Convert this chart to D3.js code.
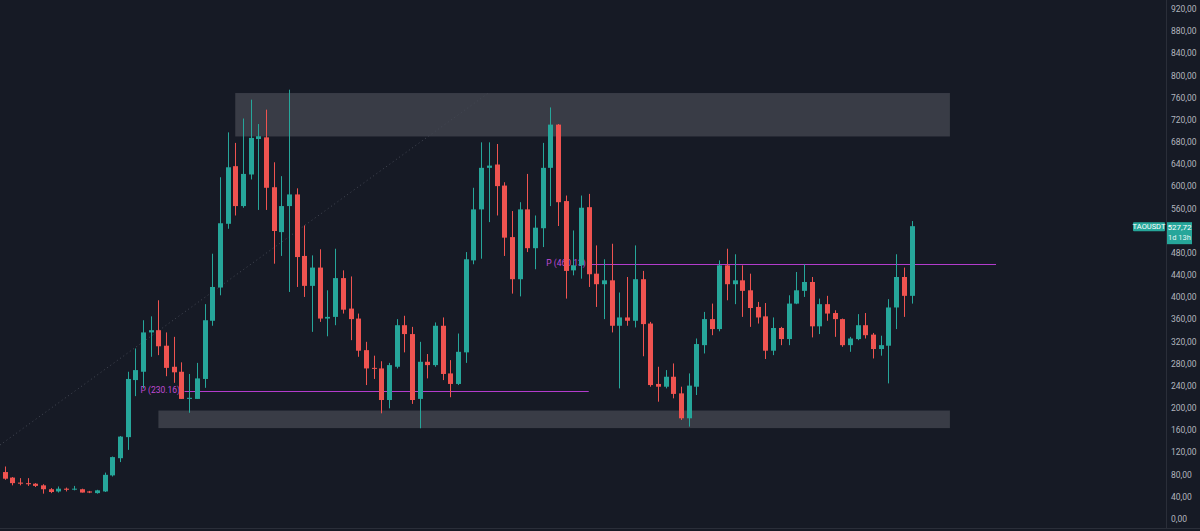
<!DOCTYPE html>
<html>
<head>
<meta charset="utf-8">
<script src="https://cdn.jsdelivr.net/npm/d3@7"></script>
<style>
  html, body { margin: 0; padding: 0; background: #161a25; overflow: hidden; }
  text { font-family: Roboto, "Noto Sans", sans-serif; }
</style>
</head>
<body>
<div id="chart"></div>
<script>
// daily candles, TAO/USDT
var opens  = [84,74,65,64,63,60,53,49,54,53,53,49,46,49,78,109,147,250,265,336,
              340,312,274,265,216,216,252,357,417,532,636,564,621,685,688,598,517,564,585,474,
              420,453,361,364,434,379,361,304,272,271,214,274,349,333,216,283,277,348,262,243,
              300,466,558,633,639,601,508,432,558,488,524,633,711,573,448,457,562,442,423,430,
              348,363,357,432,352,243,238,256,226,181,238,313,360,342,457,423,430,412,382,365,
              303,344,324,388,411,427,347,387,371,360,313,324,349,332,306,312,381,436,402];
var highs  = [94,75,73,73,64,62,55,58,56,59,54,50,52,83,112,149,265,307,358,365,
              394,336,328,282,261,281,387,478,616,697,678,722,756,712,738,643,618,774,596,529,
              475,486,412,487,448,437,370,319,294,284,281,360,366,346,319,297,354,363,286,334,
              481,597,679,679,676,607,555,571,622,547,678,742,712,583,520,583,586,493,468,496,
              408,436,493,447,355,274,268,280,238,262,325,373,388,466,487,477,457,442,391,389,
              363,346,403,445,459,436,397,402,376,361,328,369,371,335,330,396,477,453,537];
var lows   = [70,60,60,59,57,45,46,47,49,51,47,46,45,48,76,102,124,221,235,292,
              295,257,245,216,191,216,236,348,403,523,547,561,612,557,557,460,474,409,418,400,
              337,355,329,349,370,322,292,241,252,190,199,271,300,207,163,253,274,250,219,241,
              281,459,469,535,547,474,406,401,481,450,490,564,528,397,439,433,418,382,360,336,
              235,348,345,293,238,211,235,217,178,166,223,298,331,338,394,387,364,346,352,288,
              295,313,313,387,400,327,333,357,328,310,301,322,325,289,294,244,342,364,388];
var closes = [72,64,63,62,59,53,48,54,52,54,47,47,51,79,111,148,252,268,336,340,
              311,272,264,216,218,253,358,418,533,634,564,622,687,690,597,519,564,585,472,420,
              453,361,364,434,377,360,303,271,271,214,277,349,333,214,283,277,348,261,243,301,
              468,558,633,637,600,507,432,558,488,525,633,711,571,447,457,561,441,423,430,348,
              363,357,432,351,241,238,256,225,181,240,315,360,342,457,423,430,411,380,363,303,
              344,324,388,412,427,347,387,370,360,313,325,349,331,306,313,381,436,402,527.72];

var priceTicks = d3.range(0, 921, 40);

// drawn zones (index from, index to, low, high)
var zoneFrom = [30, 20];
var zoneTo   = [123, 123];
var zoneLow  = [689.6, 163.3];
var zoneHigh = [768, 195];

// pivot lines
var pivotVal  = [230.16, 460.13];
var pivotFrom = [23.4, 76.2];
var pivotTo   = [76.0, 129];

// dotted trend line [index, price]
var trendPts = [[-0.61, 132.8], [63.15, 770]];

var lastPrice = 527.72;
var symbol = "TAOUSDT";
var countdown = "1d 13h";

var width = 1200, height = 531;
var axisX = 1166;

var svg = d3.select("#chart").append("svg")
    .attr("width", width).attr("height", height);

svg.append("rect").attr("x",0).attr("y",0).attr("width",width).attr("height",height).attr("fill","#161a25");

var x = d3.scaleLinear().domain([0, opens.length - 1]).range([4.7, 911.5]);
var y = d3.scaleLinear().domain([0, 920]).range([518.6, 8.8]);

var fmt = function(v){ return d3.format(".2f")(v).replace(".", ","); };

// zones
var zones = d3.range(zoneFrom.length);
svg.append("g").selectAll("rect").data(zones).enter().append("rect")
    .attr("x", function(i){ return x(zoneFrom[i]); })
    .attr("width", function(i){ return x(zoneTo[i]) - x(zoneFrom[i]); })
    .attr("y", function(i){ return y(zoneHigh[i]); })
    .attr("height", function(i){ return y(zoneLow[i]) - y(zoneHigh[i]); })
    .attr("fill", "#393c46");

// trend line
svg.append("path")
    .attr("d", d3.line().x(function(d){ return x(d[0]); }).y(function(d){ return y(d[1]); })(trendPts))
    .attr("stroke", "#444854").attr("stroke-width", 1).attr("stroke-dasharray", "1,3").attr("fill", "none");

// pivot lines + labels
var piv = d3.range(pivotVal.length);
svg.append("g").selectAll("rect").data(piv).enter().append("rect")
    .attr("x", function(i){ return x(pivotFrom[i]); })
    .attr("width", function(i){ return x(pivotTo[i]) - x(pivotFrom[i]); })
    .attr("y", function(i){ return Math.round(y(pivotVal[i])); })
    .attr("height", 1)
    .attr("fill", "#b23ccc");
svg.append("g").selectAll("text").data(piv).enter().append("text")
    .attr("x", function(i){ return x(pivotFrom[i]) - 44; })
    .attr("y", function(i){ return y(pivotVal[i]); })
    .attr("dominant-baseline", "middle")
    .attr("font-size", "8.5px").attr("fill", "#c04ad6")
    .text(function(i){ return "P (" + pivotVal[i].toFixed(2) + ")"; });

// candles
var idx = d3.range(opens.length);
var col = function(i){ return closes[i] >= opens[i] ? "#26a69a" : "#ef5350"; };
var g = svg.append("g");
g.selectAll("line").data(idx).enter().append("line")
    .attr("x1", function(i){ return Math.round(x(i)) + 0.5; })
    .attr("x2", function(i){ return Math.round(x(i)) + 0.5; })
    .attr("y1", function(i){ return y(highs[i]); })
    .attr("y2", function(i){ return y(lows[i]); })
    .attr("stroke", col).attr("stroke-width", 1);
g.selectAll("rect").data(idx).enter().append("rect")
    .attr("x", function(i){ return Math.round(x(i)) - 2; })
    .attr("width", 5)
    .attr("y", function(i){ return y(Math.max(opens[i], closes[i])); })
    .attr("height", function(i){ return Math.max(1, Math.abs(y(opens[i]) - y(closes[i]))); })
    .attr("fill", col);

// price scale
var ly = y(lastPrice);
svg.append("rect").attr("x", axisX).attr("y", 0).attr("width", width - axisX).attr("height", height).attr("fill", "#161a25");
svg.append("line").attr("x1", axisX + 0.5).attr("x2", axisX + 0.5).attr("y1", 0).attr("y2", 528)
    .attr("stroke", "#2a2e39");
svg.append("line").attr("x1", 0).attr("x2", width).attr("y1", 528.5).attr("y2", 528.5)
    .attr("stroke", "#2a2e39");

// ticks under the last-price box are hidden, as in the terminal
var shownTicks = priceTicks.filter(function(v){ return y(v) < ly - 8 || y(v) > ly + 22; });
var axis = d3.axisRight(y).tickValues(shownTicks).tickFormat(fmt).tickSize(0).tickPadding(5);
var ag = svg.append("g").attr("transform", "translate(" + axisX + ",0)").call(axis);
ag.select(".domain").remove();
ag.selectAll("text").attr("fill", "#b2b5be").attr("font-size", "8.5px")
    .attr("font-family", "Roboto, 'Noto Sans', sans-serif");

// last price label
svg.append("rect").attr("x", 1133).attr("y", ly - 4).attr("width", 32).attr("height", 9).attr("fill", "#26a69a").attr("rx", 1);
svg.append("text").attr("x", 1149).attr("y", ly + 0.5).attr("text-anchor", "middle").attr("dominant-baseline", "middle")
    .attr("font-size", "7.5px").attr("fill", "#ffffff").text(symbol);
svg.append("rect").attr("x", axisX + 1).attr("y", ly - 4).attr("width", 25).attr("height", 22).attr("fill", "#26a69a");
svg.append("text").attr("x", axisX + 13.5).attr("y", ly + 1.5).attr("text-anchor", "middle").attr("dominant-baseline", "middle")
    .attr("font-size", "8px").attr("fill", "#ffffff").text(fmt(lastPrice));
svg.append("text").attr("x", axisX + 13.5).attr("y", ly + 12).attr("text-anchor", "middle").attr("dominant-baseline", "middle")
    .attr("font-size", "7.5px").attr("fill", "#e8f5f3").text(countdown);
</script>
</body>
</html>
